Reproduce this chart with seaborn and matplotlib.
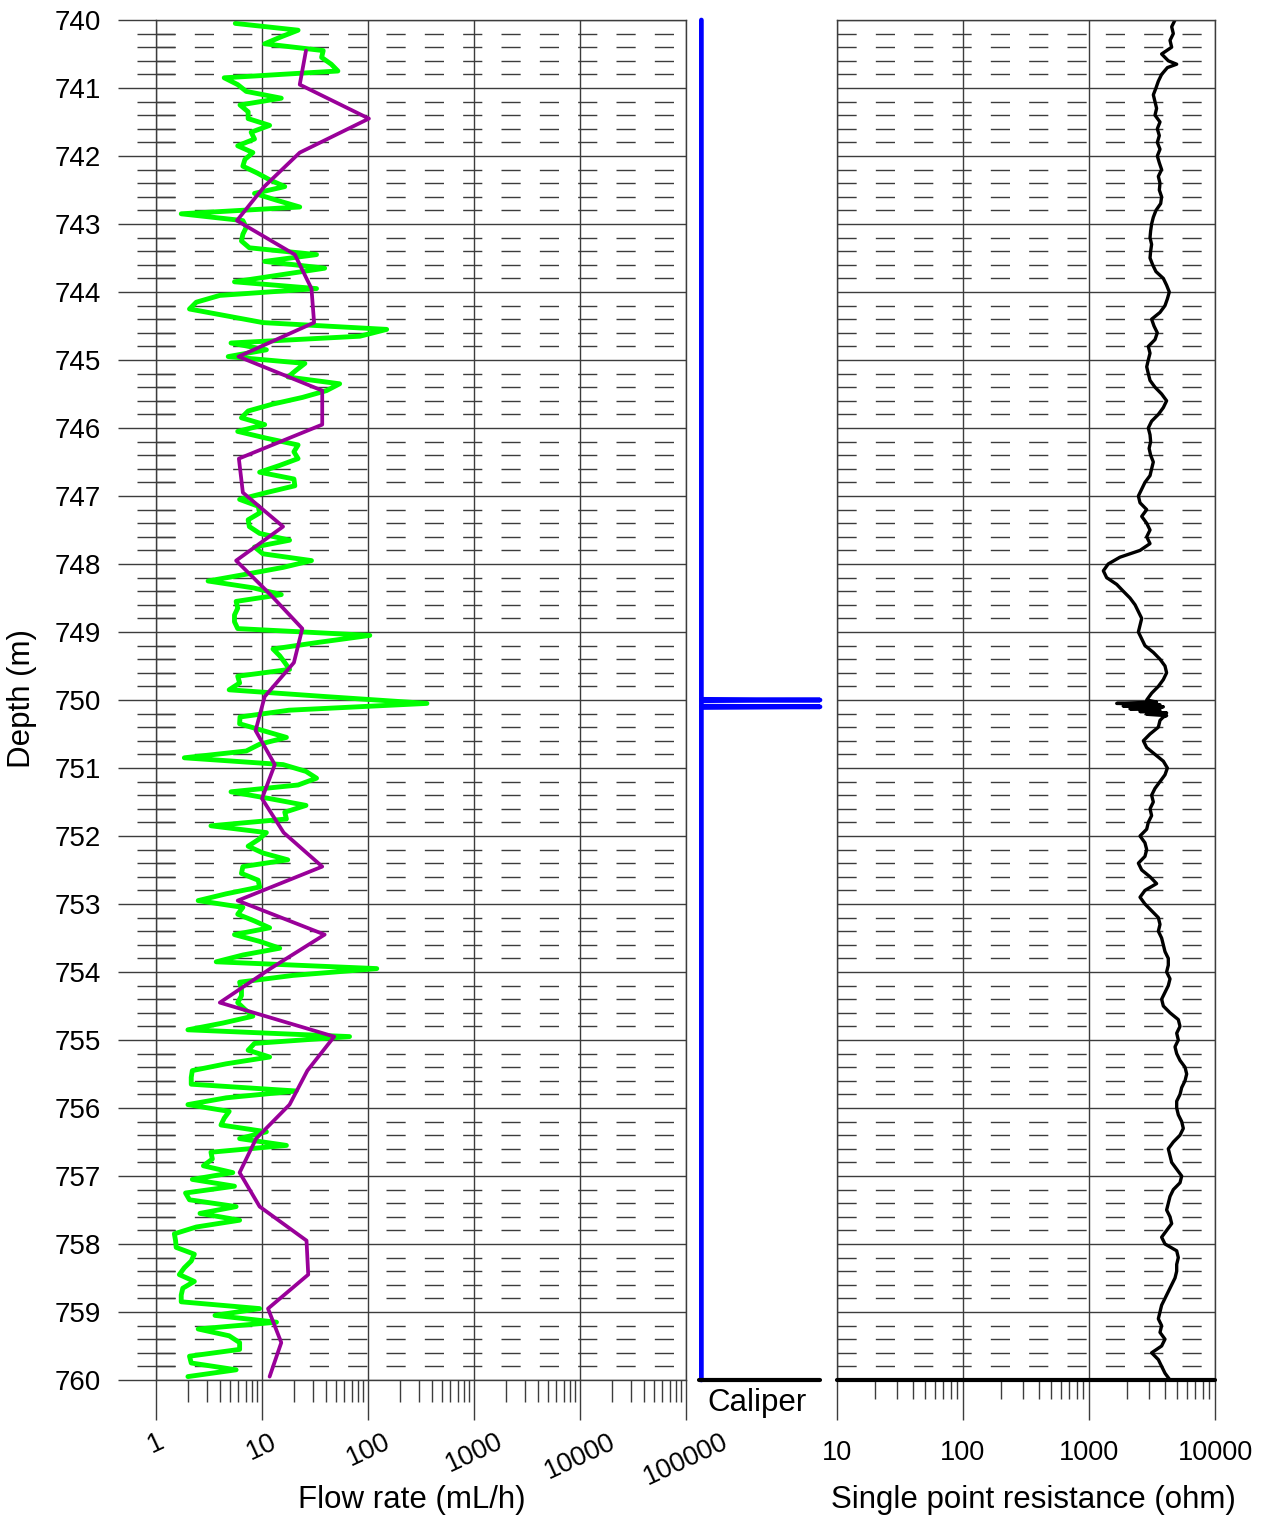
import numpy as np
import pandas as pd
import matplotlib
matplotlib.use("Agg")
import matplotlib.pyplot as plt
from matplotlib.ticker import MultipleLocator, LogLocator, NullFormatter
import seaborn as sns

# flow rate (mL/h) - green trace, one value every 0.1 m starting 740.05 m
flow_green = [
    5.6, 21.9, 15, 10.6, 37.8, 36.5, 45, 52, 4.4, 5.9,          # 740
    7.1, 15.2, 6.2, 7.4, 7.4, 11.8, 7.9, 8.5, 5.9, 8.2,         # 741
    6.9, 6.6, 9.0, 11.8, 16.4, 8.5, 13.7, 22.7, 1.73, 6.6,      # 742
    7.1, 6.6, 6.4, 7.6, 32.7, 10.6, 39, 14.7, 5.5, 32.7,        # 743
    4.0, 2.4, 2.07, 4.6, 10.2, 150, 84, 5.1, 11.0, 4.8,         # 744
    25.4, 21, 17.6, 54, 40.6, 24.1, 12.5, 7.4, 6.4, 10.6,       # 745
    5.9, 11.0, 21.9, 20, 21.9, 14.7, 9.5, 20, 20.4, 11,         # 746
    6.15, 9.2, 9.5, 7.4, 7.6, 9.5, 18.2, 8.5, 10.2, 29.3,       # 747
    15.8, 7.1, 3.1, 8.2, 15.2, 5.7, 5.9, 5.5, 5.5, 5.9,         # 748
    104, 35, 12.7, 14.7, 16.4, 18.2, 5.9, 6.15, 4.9, 40,        # 749
    360, 18, 6.2, 6.15, 10.2, 17, 9.5, 7.1, 1.85, 15.8,         # 750
    26, 32.7, 21.9, 5.1, 11.8, 26, 16.4, 17, 3.3, 11,           # 751
    9.3, 7.4, 10.2, 17.5, 6.6, 6.4, 9.2, 9.5, 4.6, 2.5,         # 752
    6.6, 5.9, 8.5, 11.8, 5.5, 9.5, 14.7, 6.6, 3.7, 121,         # 753
    19.6, 6.15, 6.4, 6.4, 5.9, 6.9, 8.2, 4.3, 2.0, 67,          # 754
    8.5, 7.4, 11.8, 4.6, 2.2, 2.15, 2.15, 21, 4.6, 2.0,         # 755
    4.9, 4.4, 4.1, 11, 6.15, 17, 3.3, 3.4, 2.8, 5.3,            # 756
    2.2, 5.5, 1.9, 2.07, 5.7, 2.6, 6.15, 2.4, 1.49, 1.53,       # 757
    1.55, 2.3, 2.15, 1.85, 1.66, 2.3, 1.79, 1.73, 1.73, 9.5,    # 758
    3.6, 13.7, 2.5, 4.9, 6.15, 6.15, 2.07, 2.15, 5.7, 2.0,      # 759
]
green_depth = np.round(740.05 + 0.1 * np.arange(len(flow_green)), 2)

# flow rate (mL/h) - purple trace, one value every 0.5 m starting 740.45 m
flow_purple = [
    26, 22.7, 102, 22.7, 10.5, 5.8, 20.4, 29.3, 31, 6.0,
    37, 37, 6.05, 6.6, 15.8, 5.7, 12, 24, 20, 10.6,
    8.7, 13.2, 10, 16, 37, 5.9, 39, 12, 4.0, 48,
    26.8, 18.2, 8.8, 6.15, 9.5, 26.3, 27.3, 11.4, 15.2, 11.8,
]
purple_depth = np.round(740.45 + 0.5 * np.arange(len(flow_purple)), 2)

# caliper
caliper_depth = [740.0, 749.99, 750.0, 750.01, 750.09, 750.1, 750.11, 760.0]
caliper_in = [3.0, 3.0, 4.0, 3.0, 3.0, 4.0, 3.0, 3.0]

# single point resistance (ohm), every 0.1 m from 740.0 m
spr_ohm = [
    4815, 4530, 4670, 4395, 4530, 3770, 4260, 4190, 3770, 3550,   # 740
    3400, 3240, 3340, 3440, 3340, 3660, 3485, 3615, 3485, 3660,   # 741
    3485, 3615, 3770, 3550, 3660, 3615, 3770, 3705, 3400, 3240,   # 742
    3140, 3085, 3050, 3140, 3085, 3050, 3200, 3400, 3890, 4130,   # 743
    4340, 4190, 4010, 3660, 3140, 3280, 3485, 3340, 2955, 3050,   # 744
    2955, 2870, 2955, 3050, 3340, 3770, 4130, 3890, 3550, 3140,   # 745
    2955, 3050, 3085, 3000, 3085, 3240, 3140, 3050, 2780, 2620,   # 746
    2465, 2540, 2870, 2620, 2870, 3050, 2870, 3050, 2540, 1760,   # 747
    1420, 1300, 1380, 1660, 1870, 2115, 2320, 2465, 2620, 2540,   # 748
    2465, 2620, 2780, 3240, 3660, 4010, 4130, 3890, 3550, 3140,   # 749
    2870, 3890, 2870, 3660, 3550, 3050, 2700, 2870, 3340, 3890,   # 750
    4190, 4010, 3660, 3340, 3140, 3240, 3050, 3140, 2955, 2870,   # 751
    2540, 2780, 2870, 2780, 2465, 2620, 3050, 3440, 2780, 2540,   # 752
    2780, 3140, 3550, 3660, 3550, 3770, 3890, 4010, 4260, 4260,   # 753
    4130, 4395, 4260, 4010, 3770, 3890, 4395, 5115, 5275, 4965,   # 754
    5115, 4815, 4965, 5275, 5780, 5960, 5780, 5440, 5275, 4965,   # 755
    4965, 5115, 5440, 5605, 5275, 4670, 4260, 4395, 4530, 4965,   # 756
    5440, 5275, 4670, 4395, 4260, 4130, 4395, 4530, 4130, 3770,   # 757
    4010, 4965, 5115, 4965, 4965, 4815, 4530, 4260, 4010, 3770,   # 758
    3660, 3550, 3770, 3660, 4010, 3770, 3140, 3550, 3770, 4010,   # 759
    4395,                                                         # 760
]
spr_depth = np.round(740.0 + 0.1 * np.arange(len(spr_ohm)), 2)
# noisy readings around the fracture at 750 m and the small spike at 740.65 m
spr_extra_depth = [740.65, 750.03, 750.05, 750.07, 750.09, 750.13, 750.15,
                   750.17, 750.19, 750.21, 750.23, 750.25]
spr_extra_ohm = [4965, 3440, 1660, 3660, 1870, 2115, 3660,
                 2540, 4130, 2870, 4130, 3890]

flow_ticks = [1, 10, 100, 1000, 10000, 100000]
spr_ticks = [10, 100, 1000, 10000]

green_df = pd.DataFrame({"depth": green_depth, "flow": flow_green})
purple_df = pd.DataFrame({"depth": purple_depth, "flow": flow_purple})
cal_df = pd.DataFrame({"depth": caliper_depth, "cal": caliper_in})
spr_df = pd.DataFrame({"depth": np.concatenate([spr_depth, spr_extra_depth]),
                       "ohm": np.concatenate([spr_ohm, spr_extra_ohm])})

sns.set_theme(style="white")
plt.rcParams["font.family"] = ["Liberation Sans", "DejaVu Sans"]
plt.rcParams["text.color"] = "black"
plt.rcParams["xtick.color"] = "black"
plt.rcParams["ytick.color"] = "black"

W, H = 1263, 1517
GRID = "#3c3c3c"
fig = plt.figure(figsize=(W / 100, H / 100), dpi=100)


def box(left, right):
    return [left / W, 1 - 1380 / H, (right - left) / W, 1360 / H]


def depth_grid(ax):
    ax.set_ylim(760, 740)
    ax.yaxis.set_major_locator(MultipleLocator(1))
    ax.yaxis.set_minor_locator(MultipleLocator(0.2))
    ax.grid(which="major", axis="both", color=GRID, linewidth=1.0)
    ax.grid(which="minor", axis="y", color=GRID, linewidth=1.0,
            linestyle=(0, (13.8, 13.8)))
    for sp in ax.spines.values():
        sp.set_color(GRID)
        sp.set_linewidth(1.0)


# ---- flow rate panel
ax_f = fig.add_axes(box(156, 686))
ax_f.set_xscale("log")
sns.lineplot(data=green_df, x="flow", y="depth", orient="y", estimator=None,
             color="#00ff00", linewidth=3.5, ax=ax_f)
sns.lineplot(data=purple_df, x="flow", y="depth", orient="y", estimator=None,
             color="#990099", linewidth=2.7, ax=ax_f)
ax_f.set_xlim(1, 1e5)
depth_grid(ax_f)
ax_f.set_xticks(flow_ticks, labels=[str(t) for t in flow_ticks])
ax_f.xaxis.set_minor_locator(LogLocator(base=10, subs=np.arange(2, 10)))
ax_f.xaxis.set_minor_formatter(NullFormatter())
ax_f.set_yticks(range(740, 761), labels=[str(d) for d in range(740, 761)])
ax_f.tick_params(axis="x", which="both", bottom=True)
ax_f.tick_params(axis="y", which="both", left=True)
ax_f.tick_params(axis="x", which="major", direction="out", length=29, width=1,
                 color=GRID, labelsize=19.5, pad=6, labelrotation=25)
ax_f.tick_params(axis="x", which="minor", direction="out", length=16, width=1,
                 color=GRID)
ax_f.tick_params(axis="y", which="major", direction="out", length=27.4, width=1,
                 color=GRID, labelsize=20, pad=12)
ax_f.tick_params(axis="y", which="minor", direction="inout", length=27.4,
                 width=1, color=GRID)
ax_f.set_xlabel("")
ax_f.set_ylabel("")

# ---- caliper panel
ax_c = fig.add_axes(box(699, 820))
sns.lineplot(data=cal_df, x="cal", y="depth", orient="y", estimator=None,
             color="#0000ff", linewidth=3.4, ax=ax_c, clip_on=False,
             solid_capstyle="round")
ax_c.set_xlim(2.98, 4.0)
ax_c.set_ylim(760, 740)
ax_c.set_xticks([])
ax_c.set_yticks([])
ax_c.set_xlabel("")
ax_c.set_ylabel("")
for name, sp in ax_c.spines.items():
    sp.set_visible(name == "bottom")
ax_c.spines["bottom"].set_color("black")
ax_c.spines["bottom"].set_linewidth(3)
ax_c.spines["bottom"].set_capstyle("round")
ax_c.set_facecolor("none")

# ---- single point resistance panel
ax_s = fig.add_axes(box(837, 1215))
ax_s.set_xscale("log")
sns.lineplot(data=spr_df, x="ohm", y="depth", orient="y", estimator=None,
             color="black", linewidth=2.4, ax=ax_s)
ax_s.set_xlim(10, 10000)
depth_grid(ax_s)
ax_s.set_xticks(spr_ticks, labels=[str(t) for t in spr_ticks])
ax_s.xaxis.set_minor_locator(LogLocator(base=10, subs=np.arange(2, 10)))
ax_s.xaxis.set_minor_formatter(NullFormatter())
ax_s.tick_params(axis="x", which="both", bottom=True)
ax_s.tick_params(axis="x", which="major", direction="out", length=29, width=1,
                 color=GRID, labelsize=19.5, pad=14)
ax_s.tick_params(axis="x", which="minor", direction="out", length=14, width=1,
                 color=GRID)
ax_s.tick_params(axis="y", which="both", left=False, length=0, labelleft=False)
ax_s.spines["bottom"].set_color("black")
ax_s.spines["bottom"].set_linewidth(3)
ax_s.spines["bottom"].set_capstyle("round")
ax_s.set_xlabel("")
ax_s.set_ylabel("")

# ---- labels
fig.text(412 / W, 1 - 1500 / H, "Flow rate (mL/h)", ha="center", va="center",
         fontsize=22.5)
fig.text(1033 / W, 1 - 1500 / H, "Single point resistance (ohm)", ha="center",
         va="center", fontsize=22.5)
fig.text(757 / W, 1 - 1403 / H, "Caliper", ha="center", va="center",
         fontsize=22.5)
fig.text(22 / W, 1 - 698 / H, "Depth (m)", ha="center", va="center",
         rotation=90, fontsize=22.5)

fig.savefig("out.png", dpi=100, facecolor="white")
